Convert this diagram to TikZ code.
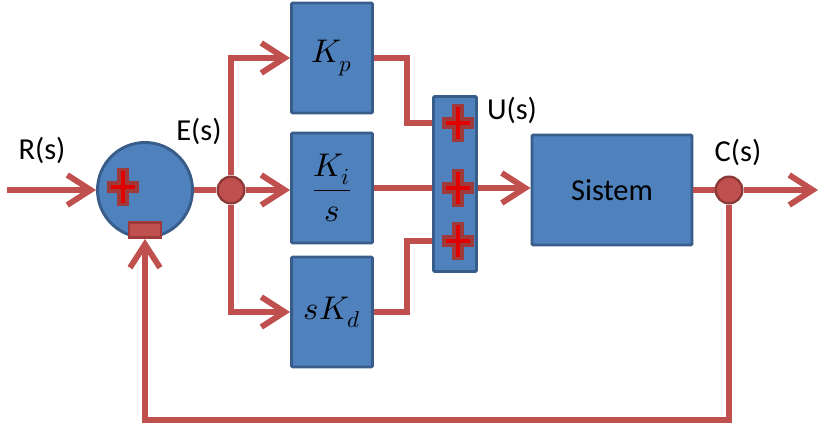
\documentclass[tikz,border=0pt]{standalone}
\usepackage{fontspec}
\usepackage{unicode-math}
\setmainfont{Carlito}
\setmathfont{Latin Modern Math}
\usetikzlibrary{arrows.meta}

\definecolor{boxblue}{HTML}{4F81BD}
\definecolor{boxedge}{HTML}{385D8A}
\definecolor{wire}{HTML}{C0504D}
\definecolor{dotedge}{HTML}{8C3836}
\definecolor{plusdark}{HTML}{A0393A}
\definecolor{plusred}{HTML}{E00000}

\tikzset{
  block/.style={draw=boxedge, fill=boxblue, line width=2.5pt, rounded corners=1pt,
    minimum width=2.43cm, minimum height=3.3cm, inner sep=0pt},
  mathtext/.style={font=\fontsize{28}{32}\selectfont},
  sumcircle/.style={circle, draw=boxedge, fill=boxblue, line width=2.5pt, minimum size=2.85cm, inner sep=0pt},
  dot/.style={circle, draw=dotedge, fill=wire, line width=2pt, minimum size=0.8cm, inner sep=0pt},
  minus/.style={draw=plusdark, fill=wire, line width=2.5pt, minimum width=0.96cm, minimum height=0.45cm, inner sep=0pt},
  wireline/.style={draw=wire, line width=5pt},
  sig/.style={wireline, -{Straight Barb[length=7mm,width=9mm]}},
  lbl/.style={font=\fontsize{26}{30}\selectfont},
  plussign/.pic={
    \draw[plusdark, line width=10pt] (-16,0) -- (16,0) (0,-19) -- (0,19);
    \draw[plusred, line width=3.2pt] (-12,0) -- (12,0) (0,-16) -- (0,16);
  }
}

\begin{document}
\begin{tikzpicture}[x=0.03cm, y=-0.03cm]
    \useasboundingbox (0,0) rectangle (824,433);

    % Blocks
    \node [sumcircle] (sum) at (145,190) {};
    \node [dot] (ej) at (231,190) {};
    \node [block, mathtext] (kp) at (332,58) {$K_p$};
    \node [block, mathtext] (ki) at (332,188) {$\displaystyle\frac{K_i}{s}$};
    \node [block, mathtext] (kd) at (332,312) {$sK_d$};
    \node [block, minimum width=1.29cm, minimum height=5.25cm] (bar) at (455,184) {};
    \node [block, minimum width=4.8cm, lbl] (sys) at (612,190) {Sistem};
    \node [dot] (oj) at (729,190) {};

    % Free ends and summing points
    \coordinate (rin) at (7,190);
    \coordinate (cout) at (818,190);
    \coordinate (fb) at (145,420);
    \coordinate (u1) at (458,123);
    \coordinate (u2) at (458,188);
    \coordinate (u3) at (458,241);

    % Signals
    \draw [sig] (rin) -- (sum.west);
    \draw [wireline] (sum.east) -- (ej.west);
    \draw [sig] (ej.north) |- (kp.west);
    \draw [sig] (ej.east) -- (ej.east -| ki.west);
    \draw [sig] (ej.south) |- (kd.west);
    \draw [wireline] (kp.east) -- ++(33,0) |- (bar.west |- u1);
    \draw [wireline] (ki.east) -- (bar.west |- u2);
    \draw [wireline] (kd.east) -- ++(33,0) |- (bar.west |- u3);
    \draw [sig] (bar.east |- u2) -- (sys.west |- u2);
    \draw [wireline] (sys.east) -- (oj.west);
    \draw [sig] (oj.east) -- (cout);
    \draw [sig] (oj.south) |- (fb) -- (sum.south);

    % Signs
    \pic at (123,187) {plussign};
    \node [minus] (neg) at (145,230) {};
    \foreach \u in {u1,u2,u3}
        \pic at (\u) {plussign};

    % Labels
    \node [lbl] (rlabel) at (42,150) {R(s)};
    \node [lbl] (elabel) at (199,131) {E(s)};
    \node [lbl] (ulabel) at (512,110) {U(s)};
    \node [lbl] (clabel) at (738,152) {C(s)};
\end{tikzpicture}
\end{document}
